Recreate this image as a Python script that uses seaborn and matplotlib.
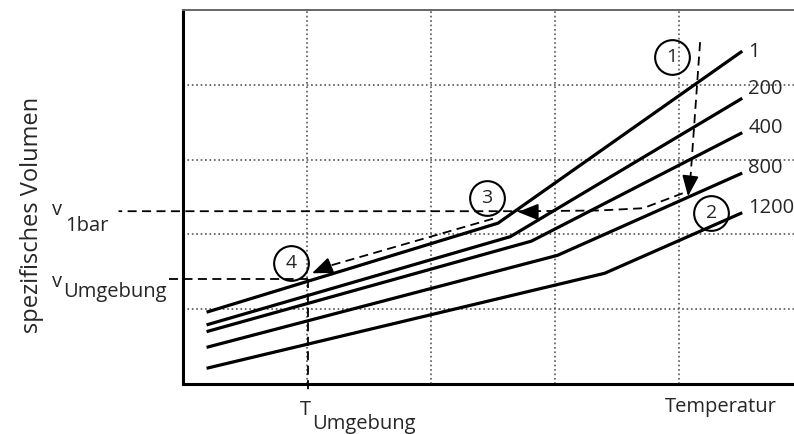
import numpy as np
import pandas as pd
import seaborn as sns
import matplotlib.pyplot as plt

sns.set_style("white")
plt.rcParams['font.family'] = ['Open Sans', 'DejaVu Sans']

# isobars (pressure in bar), x = temperature, y = specific volume (arbitrary units)
pressures = ['1', '200', '400', '800', '1200']
x_1 = [0.19, 2.54, 4.51]
y_1 = [0.96, 2.15, 4.45]
x_200 = [0.19, 2.64, 4.51]
y_200 = [0.79, 1.97, 3.82]
x_400 = [0.19, 2.81, 4.51]
y_400 = [0.70, 1.91, 3.36]
x_800 = [0.19, 3.02, 4.51]
y_800 = [0.49, 1.72, 2.82]
x_1200 = [0.19, 3.40, 4.51]
y_1200 = [0.21, 1.48, 2.29]
label_y = [4.44, 3.95, 3.42, 2.89, 2.35]

# reference levels
v_1bar = 2.31
v_umg = 1.40
t_umg = 1.01

# process path 1 -> 2 -> 3 -> 4
path_12_x = [4.17, 4.09]
path_12_y = [4.57, 2.70]
path_23_x = [4.03, 3.71, 3.36, 2.80, -0.52]
path_23_y = [2.55, 2.35, 2.32, 2.31, 2.31]
path_34_x = [2.50, 1.16]
path_34_y = [2.21, 1.57]
heads = [((4.073, 2.51), (4.09, 2.75)),
         ((2.70, 2.30), (2.84, 2.30)),
         ((1.04, 1.48), (1.17, 1.57))]
step_labels = ['1', '2', '3', '4']
step_x = [3.94, 4.26, 2.45, 0.87]
step_y = [4.37, 2.29, 2.48, 1.62]

xs = [x_1, x_200, x_400, x_800, x_1200]
ys = [y_1, y_200, y_400, y_800, y_1200]
df = pd.DataFrame({
    'T': np.concatenate(xs),
    'v': np.concatenate(ys),
    'p': np.repeat(pressures, 3),
})

fig = plt.figure(figsize=(7.94, 4.34), dpi=100)
ax = fig.add_axes([183 / 794, 50 / 434, 620 / 794, 374 / 434])

sns.lineplot(data=df, x='T', y='v', hue='p', units='p', estimator=None,
             palette={p: 'black' for p in pressures}, linewidth=2.3,
             legend=False, ax=ax, solid_capstyle='butt')

ax.set_xlim(0, 5)
ax.set_ylim(0, 5)
ax.set_xticks([1, 2, 3, 4])
ax.set_yticks([1, 2, 3, 4])
ax.set_xticklabels([])
ax.set_yticklabels([])
ax.tick_params(length=0)
ax.set_xlabel('')
ax.set_ylabel('')
ax.grid(True, linestyle=':', color='#555555', linewidth=1.2)

for s in ['left', 'bottom']:
    ax.spines[s].set_color('black')
    ax.spines[s].set_linewidth(2.2)
ax.spines['top'].set_color('#666666')
ax.spines['top'].set_linewidth(1.4)
ax.spines['right'].set_visible(False)

for p, ly in zip(pressures, label_y):
    ax.text(4.56, ly, p, fontsize=14.5, ha='left', va='center')

dash = (0, (5, 3))
ax.plot(path_12_x, path_12_y, color='black', lw=1.3, linestyle=dash)
ax.plot(path_23_x, path_23_y, color='black', lw=1.3, linestyle=dash, clip_on=False)
ax.plot(path_34_x, path_34_y, color='black', lw=1.3, linestyle=dash)
ax.plot([-0.11, t_umg], [v_umg, v_umg], color='black', lw=1.3, linestyle=dash, clip_on=False)
ax.plot([t_umg, t_umg], [v_umg, -0.13], color='black', lw=1.3, linestyle=dash, clip_on=False)

for tip, tail in heads:
    ax.annotate('', xy=tip, xytext=tail,
                arrowprops=dict(arrowstyle='-|>,head_length=0.7,head_width=0.28',
                                color='black', lw=1.3, mutation_scale=18,
                                shrinkA=0, shrinkB=0))

ax.plot(step_x, step_y, linestyle='none', marker='o', markersize=25,
        markerfacecolor='none', markeredgecolor='black', markeredgewidth=1.5)
for lab, sx, sy in zip(step_labels, step_x, step_y):
    ax.text(sx, sy, lab, fontsize=14, ha='center', va='center')

# axis annotations
ax.text(-1.056, 2.259, 'v', fontsize=14.5, ha='left', va='baseline')
ax.text(-0.952, 2.045, '1bar', fontsize=14.5, ha='left', va='baseline')
ax.text(-1.056, 1.297, 'v', fontsize=14.5, ha='left', va='baseline')
ax.text(-0.968, 1.163, 'Umgebung', fontsize=14.5, ha='left', va='baseline')
ax.text(0.944, -0.414, 'T', fontsize=14.5, ha='left', va='baseline')
ax.text(1.04, -0.60, 'Umgebung', fontsize=14.5, ha='left', va='baseline')
ax.text(3.89, -0.374, 'Temperatur', fontsize=14.5, ha='left', va='baseline')
fig.text(32 / 794, 1 - 215 / 434, 'spezifisches Volumen', fontsize=17,
         rotation=90, ha='center', va='center')

fig.savefig('out.png', dpi=100)
